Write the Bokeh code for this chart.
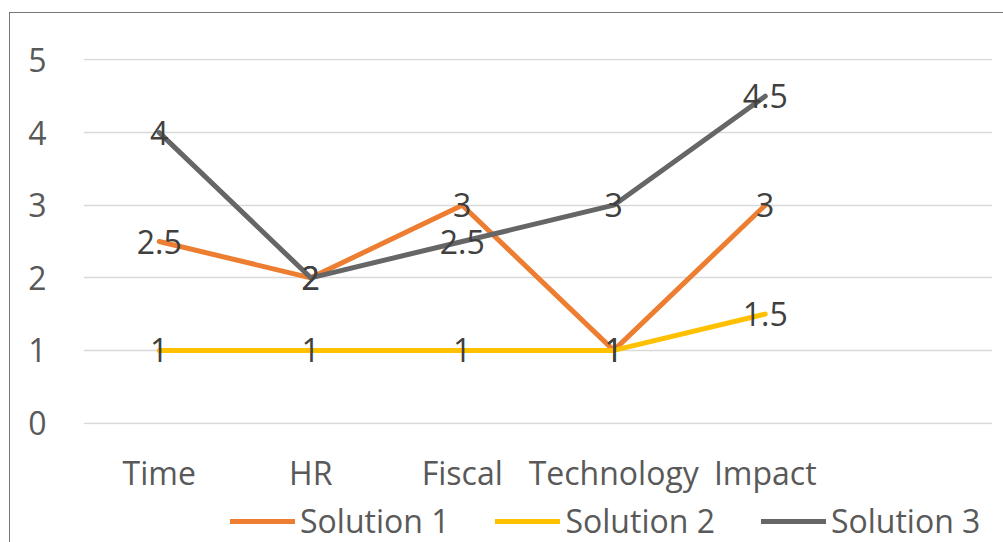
from bokeh.plotting import figure
from bokeh.layouts import column
from bokeh.models import Range1d, FixedTicker, Legend, LegendItem, ColumnDataSource
from bokeh.core.properties import value
from bokeh.embed import file_html
from bokeh.resources import INLINE

categories = ["Time", "HR", "Fiscal", "Technology", "Impact"]
solution_1 = [2.5, 2, 3, 1, 3]
solution_2 = [1, 1, 1, 1, 1.5]
solution_3 = [4, 2, 2.5, 3, 4.5]
series_names = ["Solution 1", "Solution 2", "Solution 3"]
series_colors = ["#ED7D31", "#FFC000", "#666666"]
y_ticks = [0, 1, 2, 3, 4, 5]

FONT = "Open Sans"
FS = "32px"

p = figure(width=993, height=483, output_backend="svg", toolbar_location=None,
           x_range=Range1d(-0.5, 5.5), y_range=Range1d(-0.02, 5.02),
           min_border_left=73, min_border_right=11, min_border_top=45,
           min_border_bottom=70)
p.outline_line_color = None
p.background_fill_color = "white"
p.border_fill_color = "white"

p.xgrid.grid_line_color = None
p.ygrid.grid_line_color = "#D9D9D9"
p.ygrid.grid_line_width = 1.5
p.ygrid.ticker = FixedTicker(ticks=y_ticks)

p.yaxis.ticker = FixedTicker(ticks=y_ticks)
p.xaxis.ticker = FixedTicker(ticks=list(range(len(categories))))
p.xaxis.major_label_overrides = {i: c for i, c in enumerate(categories)}
for ax in (p.xaxis, p.yaxis):
    ax.axis_line_color = None
    ax.major_tick_line_color = None
    ax.minor_tick_line_color = None
    ax.major_label_text_font = FONT
    ax.major_label_text_font_size = FS
    ax.major_label_text_color = "#595959"
p.yaxis.major_label_standoff = 31
p.xaxis.major_label_standoff = 20

xs = list(range(len(categories)))
series_sources = []
for name, vals, col in zip(series_names, [solution_1, solution_2, solution_3], series_colors):
    src = ColumnDataSource(dict(x=xs, y=vals, lab=[f"{v:g}" for v in vals]))
    p.line("x", "y", source=src, line_color=col, line_width=5,
           line_cap="round", line_join="round")
    series_sources.append(src)

for src in series_sources:
    p.text("x", "y", text="lab", source=src, text_align="center",
           text_baseline="middle", text_font=value(FONT), text_font_size=FS,
           text_color="#404040")

# legend strip below the chart (series lines lie outside its visible range)
pl = figure(width=993, height=46, output_backend="svg", toolbar_location=None,
            x_range=Range1d(-0.5, 5.5), y_range=Range1d(10, 11),
            min_border_left=0, min_border_right=0, min_border_top=0,
            min_border_bottom=0, x_axis_location=None, y_axis_location=None)
pl.outline_line_color = None
pl.grid.visible = False
pl.background_fill_color = "white"
pl.border_fill_color = "white"
items = []
for name, src, col in zip(series_names, series_sources, series_colors):
    r = pl.line("x", "y", source=src, line_color=col, line_width=5, line_cap="round")
    items.append(LegendItem(label=name, renderers=[r]))

legend = Legend(items=items, orientation="horizontal", location=(147, 0),
                label_text_font=FONT, label_text_font_size=FS,
                label_text_color="#595959", glyph_width=65, glyph_height=30,
                label_standoff=5, spacing=46, padding=0, margin=0,
                border_line_color=None, background_fill_alpha=0)
pl.add_layout(legend, "center")

layout = column(p, pl, spacing=0,
                styles={"margin-left": "9px", "margin-top": "12px",
                        "border-left": "1px solid #767676",
                        "border-top": "1px solid #767676"})

open("out.html", "w").write(file_html(layout, INLINE))
